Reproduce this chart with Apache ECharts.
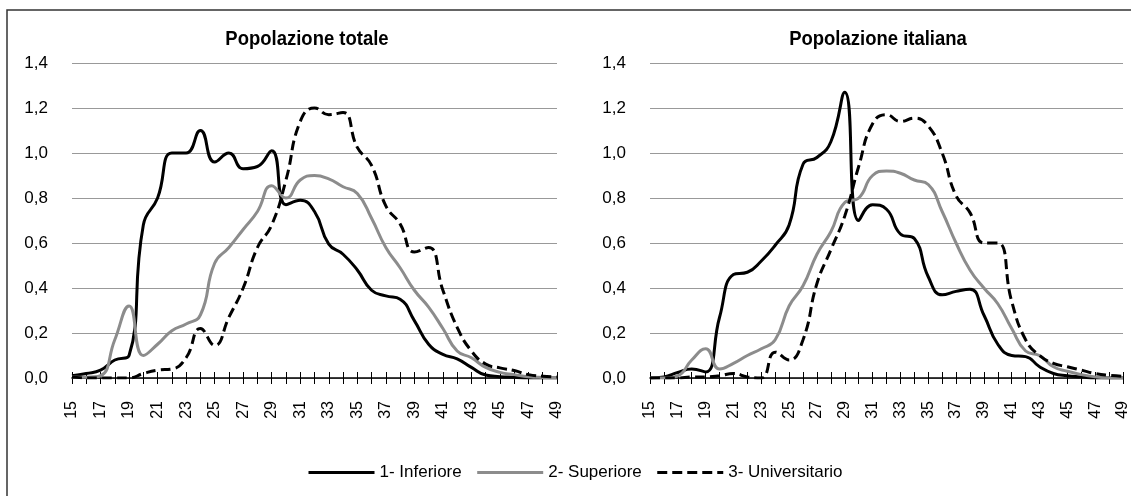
<!DOCTYPE html>
<html>
<head>
<meta charset="utf-8">
<script src="https://cdn.jsdelivr.net/npm/echarts@6/dist/echarts.min.js"></script>
<style>
  html, body { margin: 0; padding: 0; background: #fff; }
  #chart { width: 1131px; height: 496px; }
</style>
</head>
<body>
<div id="chart"></div>
<script>
// eta' (asse x)
var ages = ['15', '16', '17', '18', '19', '20', '21', '22', '23', '24', '25', '26',
  '27', '28', '29', '30', '31', '32', '33', '34', '35', '36', '37', '38', '39',
  '40', '41', '42', '43', '44', '45', '46', '47', '48', '49']

var seriesNames = ['1- Inferiore', '2- Superiore', '3- Universitario']

// Popolazione totale
var inferioreTot = [0.01, 0.02, 0.035, 0.08, 0.10, 0.68, 0.80, 1.0, 1.0, 1.10, 0.96, 1.0,
  0.93, 0.94, 1.01, 0.77, 0.79, 0.74, 0.595, 0.55, 0.48, 0.39, 0.365, 0.35, 0.255,
  0.15, 0.105, 0.085, 0.047, 0.013, 0.006, 0.003, 0, 0, 0]
var superioreTot = [0.005, 0.003, 0.01, 0.17, 0.32, 0.10, 0.15, 0.21, 0.24, 0.28, 0.51, 0.58,
  0.66, 0.74, 0.855, 0.80, 0.88, 0.90, 0.885, 0.85, 0.82, 0.71, 0.58, 0.49, 0.39,
  0.315, 0.22, 0.12, 0.09, 0.047, 0.025, 0.015, 0.006, 0.002, 0]
var universitarioTot = [0.005, 0, 0, 0, 0, 0.02, 0.035, 0.04, 0.09, 0.22, 0.145, 0.27,
  0.40, 0.58, 0.68, 0.88, 1.14, 1.2, 1.17, 1.18, 1.025, 0.945, 0.765, 0.685, 0.56,
  0.58, 0.39, 0.225, 0.12, 0.062, 0.045, 0.033, 0.015, 0.008, 0.004]

// Popolazione italiana
var inferioreIta = [0, 0.005, 0.025, 0.04, 0.027, 0.27, 0.46, 0.47, 0.52, 0.59, 0.68, 0.95,
  0.98, 1.05, 1.27, 0.70, 0.77, 0.75, 0.64, 0.62, 0.45, 0.37, 0.385, 0.395, 0.28,
  0.15, 0.10, 0.095, 0.05, 0.02, 0.01, 0.005, 0, 0, 0]
var superioreIta = [0, 0, 0.01, 0.08, 0.13, 0.04, 0.065, 0.10, 0.13, 0.17, 0.32, 0.41,
  0.55, 0.65, 0.78, 0.80, 0.90, 0.92, 0.91, 0.88, 0.86, 0.74, 0.60, 0.48, 0.40,
  0.33, 0.22, 0.12, 0.10, 0.05, 0.03, 0.015, 0.005, 0, 0]
var universitarioIta = [0, 0, 0, 0.005, 0.005, 0.01, 0.02, 0.005, 0, 0.115, 0.08, 0.17,
  0.42, 0.57, 0.72, 0.94, 1.13, 1.17, 1.14, 1.155, 1.12, 1.0, 0.81, 0.735, 0.60,
  0.60, 0.34, 0.17, 0.10, 0.065, 0.05, 0.035, 0.02, 0.012, 0.008]

var font = "'Liberation Sans', Arial, sans-serif"
var grigio = '#8c8c8c'
var tratteggio = [10, 5]

var myChart = echarts.init(document.getElementById('chart'))

function xAxes (gi) {
  return [{
    type: 'category',
    gridIndex: gi,
    data: ages,
    boundaryGap: false,
    axisLine: { lineStyle: { color: '#000', width: 1.5 } },
    axisTick: { interval: 0, length: 6, lineStyle: { color: '#000' } },
    axisLabel: { interval: 1, rotate: 90, margin: 23, color: '#000', fontSize: 16, fontFamily: font }
  }, {
    // tacche anche sopra l'asse
    type: 'category',
    gridIndex: gi,
    data: ages,
    position: 'bottom',
    boundaryGap: false,
    axisLine: { show: false },
    axisTick: { inside: true, interval: 0, length: 6, lineStyle: { color: '#000' } },
    axisLabel: { show: false }
  }]
}

function yAxis (gi) {
  return {
    type: 'value',
    gridIndex: gi,
    min: 0,
    max: 1.4,
    interval: 0.2,
    axisLine: { show: false },
    axisTick: { show: false },
    axisLabel: {
      margin: 24,
      color: '#000',
      fontSize: 17,
      fontFamily: font,
      formatter: function (v) { return v.toFixed(1).replace('.', ',') }
    },
    splitLine: { lineStyle: { color: '#999', width: 1 } }
  }
}

function lines (gi, inf, sup, uni) {
  var base = { type: 'line', xAxisIndex: gi * 2, yAxisIndex: gi, smooth: 0.5, symbol: 'none' }
  return [
    Object.assign({}, base, { name: seriesNames[0], data: inf, lineStyle: { color: '#000', width: 3 }, itemStyle: { color: '#000' } }),
    Object.assign({}, base, { name: seriesNames[1], data: sup, lineStyle: { color: grigio, width: 3 }, itemStyle: { color: grigio } }),
    Object.assign({}, base, { name: seriesNames[2], data: uni, lineStyle: { color: '#000', width: 3, type: tratteggio }, itemStyle: { color: '#000' } })
  ]
}

var option = {
  animation: false,
  textStyle: { fontFamily: font },
  graphic: [
    {
      type: 'rect',
      shape: { x: 7, y: 10, width: 1150, height: 520 },
      style: { fill: 'none', stroke: '#333', lineWidth: 1.5 }
    },
    {
      type: 'text',
      x: 307,
      y: 39,
      scaleX: 0.88,
      style: { text: 'Popolazione totale', fontSize: 21, fontWeight: 'bold', fontFamily: font, fill: '#000', align: 'center', verticalAlign: 'middle' }
    },
    {
      type: 'text',
      x: 878,
      y: 39,
      scaleX: 0.88,
      style: { text: 'Popolazione italiana', fontSize: 21, fontWeight: 'bold', fontFamily: font, fill: '#000', align: 'center', verticalAlign: 'middle' }
    }
  ],
  legend: {
    data: [
      { name: seriesNames[0], lineStyle: { color: '#000', width: 3 } },
      { name: seriesNames[1], lineStyle: { color: grigio, width: 3 } },
      { name: seriesNames[2], lineStyle: { color: '#000', width: 3, type: tratteggio } }
    ],
    left: 302,
    top: 459,
    itemWidth: 66,
    itemHeight: 14,
    itemGap: 14,
    itemStyle: { opacity: 0 },
    textStyle: { color: '#000', fontSize: 17, fontFamily: font }
  },
  grid: [
    { left: 72, right: 574, top: 63, bottom: 118 },
    { left: 650, right: 4, top: 63, bottom: 118 }
  ],
  xAxis: xAxes(0).concat(xAxes(1)),
  yAxis: [yAxis(0), yAxis(1)],
  series: lines(0, inferioreTot, superioreTot, universitarioTot)
    .concat(lines(1, inferioreIta, superioreIta, universitarioIta))
}

myChart.setOption(option)
</script>
</body>
</html>
